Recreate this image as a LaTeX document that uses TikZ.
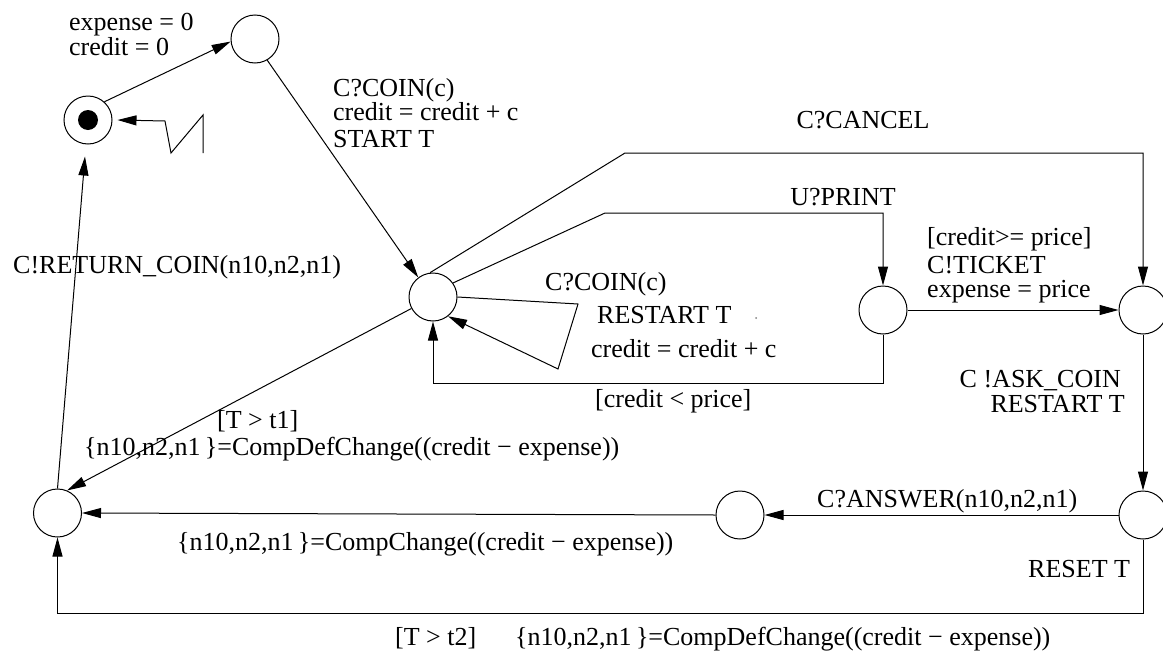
\documentclass[tikz,border=0pt]{standalone}
\usepackage{fontspec}
\setmainfont{Liberation Serif}
\usetikzlibrary{arrows.meta}
\newcommand{\lbfont}{\fontsize{26}{28}\selectfont}
\tikzset{
  st/.style={circle, draw, minimum size=48pt, inner sep=0pt, line width=1pt},
  lbl/.style={inner sep=0pt, font=\lbfont},
  arr/.style={-{Triangle[length=19pt,width=10pt]}, line width=1pt},
  ln/.style={line width=1pt}
}
\begin{document}
\begin{tikzpicture}[x=1pt,y=-1pt]
\useasboundingbox (0,0) rectangle (1163,659);
% states
\node[st] (I) at (88,120) {};
\fill (I.center) circle[radius=10pt];
\node[st] (S1) at (255,39) {};
\node[st] (M) at (433,297) {};
\node[st] (P) at (883,310) {};
\node[st] (R1) at (1143,310) {};
\node[st] (R2) at (1143,515) {};
\node[st] (A) at (740,515) {};
\node[st] (F) at (57.5,513) {};
% timeout symbol
\coordinate (z4) at (203,153);
\draw[arr] (z4) -- (203,115) -- (171,153) -- (165,121) -- ([xshift=5pt]I.east);
% transitions
\draw[arr] (I.48) -- (S1.186);
\node[lbl, anchor=base west] (t1) at (69,30) {expense = 0};
\node[lbl, anchor=base west] (t2) at (69,55) {credit = 0};

\draw[arr] (S1.-60) -- (M.127);
\node[lbl, anchor=base west] (t3) at (333,96) {C?COIN(c)};
\node[lbl, anchor=base west] (t4) at (333,120) {credit = credit + c};
\node[lbl, anchor=base west] (t5) at (333,147) {START T};

\draw[arr] (M.97) -- (625,153) -| (R1.north);
\node[lbl, anchor=base] (t6) at (863,128) {C?CANCEL};

\draw[arr] (M.35) -- (605,213) -| (P.north);
\node[lbl, anchor=base] (t7) at (843,205) {U?PRINT};

\draw[arr] (M.east) -- (578,304) -- (558,369) -- (M.-52);
\node[lbl, anchor=base west] (t8) at (545,290) {C?COIN(c)};
\node[lbl, anchor=base west] (t9) at (597,323) {RESTART T};
\node[lbl, anchor=base west] (t10) at (591,357) {credit = credit + c};
\fill[gray] (756,318) circle[radius=1pt];

\draw[arr] (P.south) -- (883,383) -| (M.south);
\node[lbl, anchor=base west] (t11) at (595,407) {[credit < price]};

\draw[arr] (P.east) -- (R1.west);
\node[lbl, anchor=base west] (t12) at (927,245) {[credit>= price]};
\node[lbl, anchor=base west] (t13) at (927,273) {C!TICKET};
\node[lbl, anchor=base west] (t14) at (927,297) {expense = price};

\draw[arr] (R1.south) -- (R2.north);
\node[lbl, anchor=base east] (t15) at (1121,387) {C !ASK\_COIN};
\node[lbl, anchor=base east] (t16) at (1125,412) {RESTART T};

\draw[arr] (R2.west) -- (A.east);
\node[lbl, anchor=base west] (t17) at (817,507) {C?ANSWER(n10,n2,n1)};

\draw[arr] (A.west) -- (F.east);
\node[lbl, anchor=base west] (t18) at (177,550) {\{n10,n2,n1\,\}=CompChange((credit − expense))};

\draw[arr] (M.208) -- (F.67);
\node[lbl, anchor=base west] (t19) at (217,428) {[T > t1]};
\node[lbl, anchor=base west] (t20) at (84,455) {\{n10,n2,n1\,\}=CompDefChange((credit − expense))};

\draw[arr] (F.north) -- ([xshift=-3pt,yshift=-12pt]I.south);
\node[lbl, anchor=base west] (t21) at (13,273) {C!RETURN\_COIN(n10,n2,n1)};

\draw[arr] (R2.south) -- (1143,613) -| (F.south);
\node[lbl, anchor=base west] (t22) at (1028,577) {RESET T};
\node[lbl, anchor=base west] (t23) at (395,645) {[T > t2]};
\node[lbl, anchor=base west] (t24) at (515,645) {\{n10,n2,n1\,\}=CompDefChange((credit − expense))};
\end{tikzpicture}
\end{document}
